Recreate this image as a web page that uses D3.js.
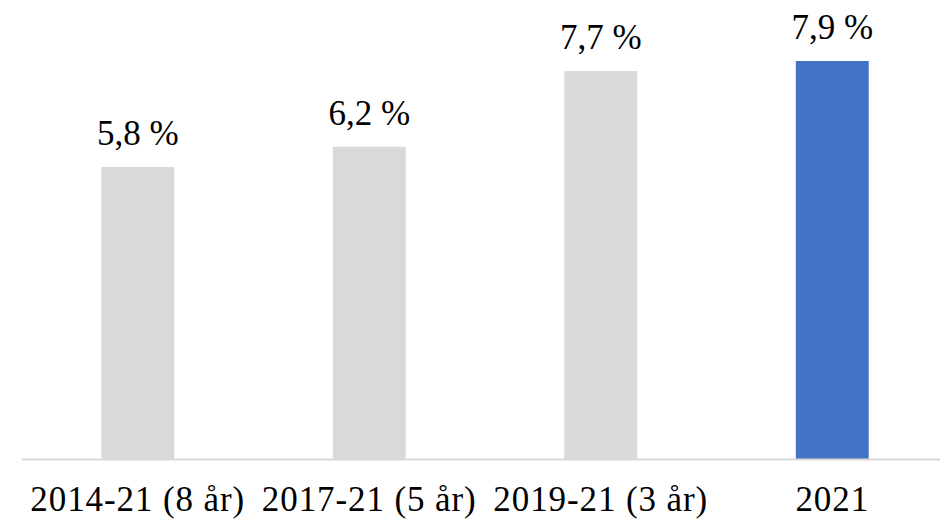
<!DOCTYPE html>
<html>
<head>
<meta charset="utf-8">
<script src="https://cdn.jsdelivr.net/npm/d3@7"></script>
<style>
  body { margin: 0; background: #fff; }
  text { font-family: "Liberation Serif", "DejaVu Serif", serif; fill: #000; }
</style>
</head>
<body>
<div id="chart"></div>
<script>
var categories = ["2014-21 (8 år)", "2017-21 (5 år)", "2019-21 (3 år)", "2021"];
var values = [5.8, 6.2, 7.7, 7.9];
var barColors = ["#d9d9d9", "#d9d9d9", "#d9d9d9", "#4472c4"];

var width = 940, height = 520;
var baseY = 459.5;

var svg = d3.select("#chart").append("svg")
    .attr("width", width)
    .attr("height", height);

var x = d3.scaleBand()
    .domain(categories)
    .range([22, 948])
    .paddingInner(0.685)
    .paddingOuter(0.3425);

// 7.9 should reach y=61
var y = d3.scaleLinear()
    .domain([0, 7.9])
    .range([baseY, 61]);

svg.selectAll("rect.bar")
    .data(values)
    .enter().append("rect")
    .attr("class", "bar")
    .attr("x", function(d, i) { return x(categories[i]); })
    .attr("y", function(d) { return y(d); })
    .attr("width", x.bandwidth())
    .attr("height", function(d) { return baseY - y(d); })
    .attr("fill", function(d, i) { return barColors[i]; });

// baseline
svg.append("line")
    .attr("x1", 22).attr("x2", 940)
    .attr("y1", baseY).attr("y2", baseY)
    .attr("stroke", "#d9d9d9")
    .attr("stroke-width", 2);

// value labels
svg.selectAll("text.val")
    .data(values)
    .enter().append("text")
    .attr("class", "val")
    .attr("text-anchor", "middle")
    .attr("x", function(d, i) { return x(categories[i]) + x.bandwidth() / 2; })
    .attr("y", function(d) { return y(d) - 22; })
    .attr("font-size", 35)
    .text(function(d) { return d3.format(".1f")(d).replace(".", ",") + " %"; });

// category labels (kept above the bottom edge so parentheses are not clipped)
svg.selectAll("text.cat")
    .data(categories)
    .enter().append("text")
    .attr("class", "cat")
    .attr("text-anchor", "middle")
    .attr("x", function(d) { return x(d) + x.bandwidth() / 2; })
    .attr("y", 511)
    .attr("font-size", 35)
    .attr("letter-spacing", 0.9)
    .text(function(d) { return d; });
</script>
</body>
</html>
